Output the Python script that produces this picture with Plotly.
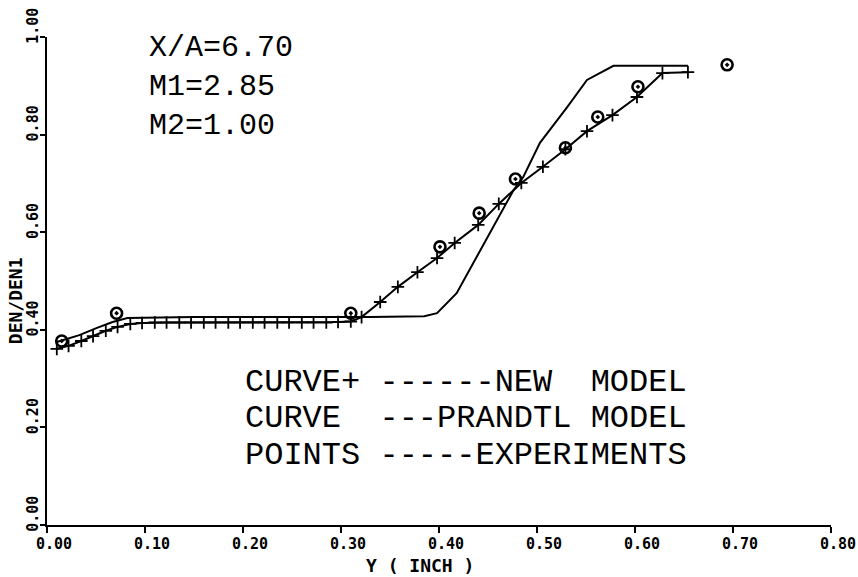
import plotly.graph_objects as go

# Density ratio across the mixing layer at X/A = 6.70
new_x = [0.010, 0.022, 0.035, 0.047, 0.060, 0.072, 0.085, 0.097, 0.110, 0.122,
         0.135, 0.147, 0.160, 0.172, 0.185, 0.197, 0.210, 0.222, 0.235, 0.247,
         0.260, 0.272, 0.285, 0.297, 0.310, 0.321, 0.340, 0.358, 0.378, 0.398,
         0.416, 0.440, 0.461, 0.484, 0.506, 0.529, 0.551, 0.577, 0.602, 0.628,
         0.654]
new_y = [0.361, 0.367, 0.377, 0.387, 0.398, 0.406, 0.412, 0.414, 0.415, 0.415,
         0.415, 0.415, 0.415, 0.415, 0.415, 0.415, 0.415, 0.415, 0.415, 0.415,
         0.415, 0.415, 0.415, 0.416, 0.417, 0.426, 0.457, 0.488, 0.518, 0.547,
         0.578, 0.615, 0.658, 0.701, 0.734, 0.770, 0.807, 0.840, 0.877, 0.926,
         0.928]

prandtl_x = [0.010, 0.033, 0.051, 0.067, 0.082, 0.150, 0.250, 0.330, 0.385,
             0.398, 0.418, 0.435, 0.455, 0.476, 0.486, 0.503, 0.531, 0.551,
             0.578, 0.626, 0.654]
prandtl_y = [0.375, 0.389, 0.404, 0.416, 0.424, 0.426, 0.426, 0.426, 0.428,
             0.434, 0.475, 0.537, 0.611, 0.686, 0.713, 0.783, 0.857, 0.912,
             0.941, 0.941, 0.941]

exp_x = [0.015, 0.071, 0.310, 0.401, 0.441, 0.478, 0.529, 0.562, 0.603, 0.694]
exp_y = [0.377, 0.434, 0.434, 0.570, 0.639, 0.709, 0.773, 0.836, 0.898, 0.943]

x_ticks = [0.0, 0.1, 0.2, 0.3, 0.4, 0.5, 0.6, 0.7, 0.8]
y_ticks = [0.0, 0.2, 0.4, 0.6, 0.8, 1.0]

params = ["X/A=6.70", "M1=2.85", "M2=1.00"]
legend_lines = ["CURVE+ ------NEW  MODEL",
                "CURVE  ---PRANDTL MODEL",
                "POINTS -----EXPERIMENTS"]

INK = "#000000"
MONO = "Liberation Mono"
TICK_FONT = dict(family="DejaVu Sans Mono", size=15, color=INK, weight="bold")

fig = go.Figure()

fig.add_trace(go.Scatter(
    x=prandtl_x, y=prandtl_y, mode="lines",
    line=dict(color=INK, width=2), showlegend=False))

fig.add_trace(go.Scatter(
    x=new_x, y=new_y, mode="lines+markers",
    line=dict(color=INK, width=2),
    marker=dict(symbol="cross-thin", size=9, line=dict(color=INK, width=1.8)),
    showlegend=False))

fig.add_trace(go.Scatter(
    x=exp_x, y=exp_y, mode="markers",
    marker=dict(symbol="circle-open-dot", size=11, color=INK,
                line=dict(color=INK, width=2.6)),
    showlegend=False))

annotations = []
for text, yv in zip(params, [0.977, 0.898, 0.818]):
    annotations.append(dict(x=0.102, y=yv, xref="x", yref="y", text=text,
                            showarrow=False, xanchor="left", yanchor="middle",
                            font=dict(family=MONO, size=30, color=INK)))
for text, yv in zip(legend_lines, [0.293, 0.219, 0.143]):
    annotations.append(dict(x=0.200, y=yv, xref="x", yref="y", text=text,
                            showarrow=False, xanchor="left", yanchor="middle",
                            font=dict(family=MONO, size=32, color=INK)))
annotations.append(dict(x=-0.04, y=0.46, xref="paper", yref="y", text="DEN/DEN1",
                        textangle=-90, showarrow=False, xanchor="center",
                        yanchor="middle",
                        font=dict(family="DejaVu Sans Mono", size=18,
                                  color=INK, weight="bold")))
annotations.append(dict(x=0.476, y=-0.082, xref="paper", yref="paper",
                        text="Y ( INCH )", showarrow=False,
                        xanchor="center", yanchor="middle",
                        font=dict(family="DejaVu Sans Mono", size=18,
                                  color=INK, weight="bold")))

fig.update_layout(
    width=858, height=577,
    margin=dict(l=47, r=27, t=37, b=52),
    paper_bgcolor="white", plot_bgcolor="white",
    annotations=annotations,
    xaxis=dict(range=[0, 0.8], tickvals=x_ticks, tickformat=".2f",
               automargin=False,
               showline=True, linecolor=INK, linewidth=2,
               ticks="outside", ticklen=6, tickwidth=2, tickcolor=INK,
               showgrid=False, zeroline=False, tickfont=TICK_FONT,
               ticklabelshift=7, ticklabelstandoff=-2),
    yaxis=dict(range=[0, 1.0], tickvals=y_ticks, tickformat=".2f",
               tickangle=-90, automargin=False,
               showline=True, linecolor=INK, linewidth=2,
               ticks="outside", ticklen=5, tickwidth=2, tickcolor=INK,
               showgrid=False, zeroline=False, tickfont=TICK_FONT,
               ticklabelstandoff=-4, ticklabelshift=-9),
)

fig.write_html("out.html")
